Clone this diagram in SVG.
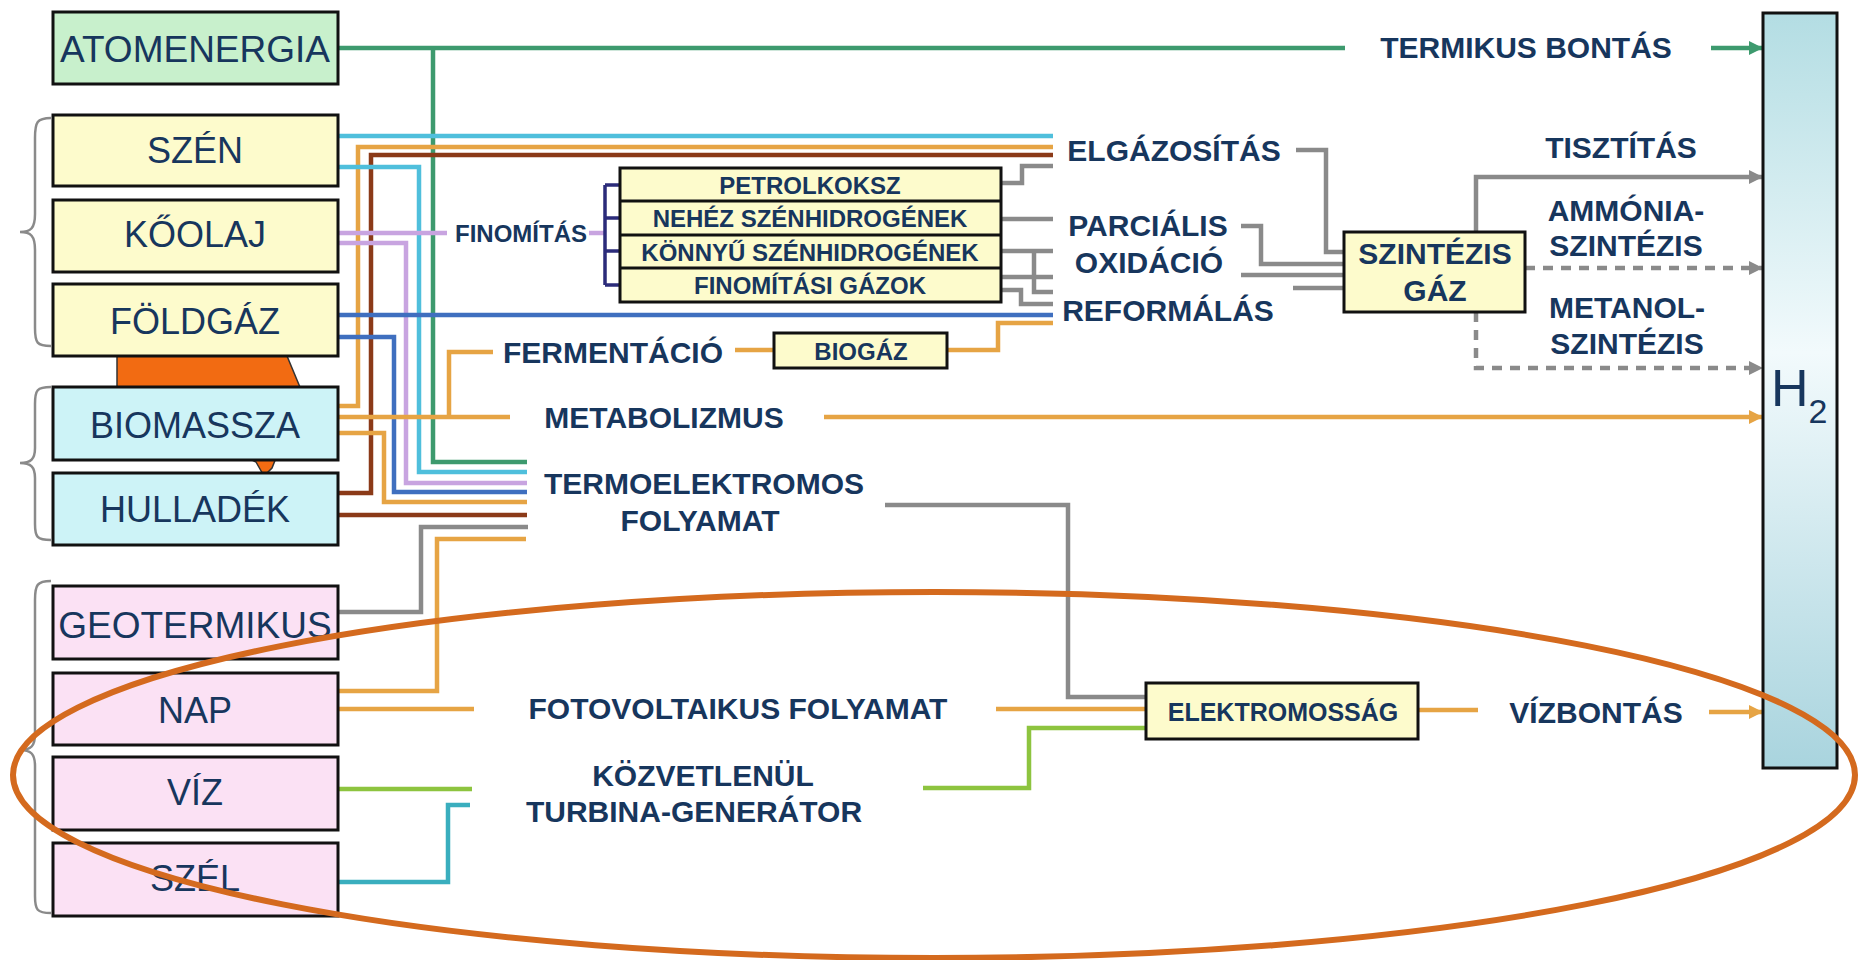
<svg xmlns="http://www.w3.org/2000/svg" width="1858" height="960" viewBox="0 0 1858 960">
<style>
.box{stroke:#111;stroke-width:3}
.yel{fill:#fdfbcc}
.cya{fill:#cdf3f7}
.pnk{fill:#fbe1f4}
.grn{fill:#c8f0cc}
.src{font-family:"Liberation Sans",Arial,sans-serif;font-size:36px;fill:#17365d;text-anchor:middle;dominant-baseline:central}
.lbl{font-family:"Liberation Sans",Arial,sans-serif;font-weight:bold;font-size:30px;fill:#17365d;text-anchor:middle;dominant-baseline:central}
.sm{font-size:24px}
.c{fill:none;stroke-width:4.5}
.brace{fill:none;stroke:#8a8a8a;stroke-width:2.5}
.cyan{stroke:#4fbfdc}
.org{stroke:#e6a444}
.brn{stroke:#8b3a18}
.gr{stroke:#3d9a6e}
.lil{stroke:#c8a4e0}
.blu{stroke:#3f6fbf}
.gry{stroke:#8a8a8a}
.ygr{stroke:#8dc43f}
.teal{stroke:#3aaebe}
.nav{stroke:#2b2b7a;stroke-width:3.5}
.dash{stroke-dasharray:10 8}
</style>
<defs>
<marker id="aG" viewBox="0 0 10 10" refX="10" refY="5" markerUnits="userSpaceOnUse" markerWidth="14" markerHeight="14" orient="auto"><path d="M0,0L10,5L0,10z" fill="#3d9a6e"/></marker>
<marker id="aY" viewBox="0 0 10 10" refX="10" refY="5" markerUnits="userSpaceOnUse" markerWidth="14" markerHeight="14" orient="auto"><path d="M0,0L10,5L0,10z" fill="#8a8a8a"/></marker>
<marker id="aO" viewBox="0 0 10 10" refX="10" refY="5" markerUnits="userSpaceOnUse" markerWidth="14" markerHeight="14" orient="auto"><path d="M0,0L10,5L0,10z" fill="#e6a444"/></marker>
<linearGradient id="h2g" x1="0" y1="0" x2="0" y2="1">
<stop offset="0" stop-color="#b3dde3"/>
<stop offset="0.45" stop-color="#f2fafc"/>
<stop offset="1" stop-color="#a9d4de"/>
</linearGradient>
</defs>
<rect width="1858" height="960" fill="#ffffff"/>

<g id="decor">
<polygon points="117,356 287,356 302,392 272,468 264,476 256,462 117,390" fill="#f26b12" stroke="#333" stroke-width="1.5"/>
<path class="brace" d="M51,118 C37,118 35,122 35,138 L35,214 C35,228 31,232 20,232 C31,232 35,236 35,250 L35,328 C35,343 37,346 51,346"/>
<path class="brace" d="M51,387 C37,387 35,390 35,404 L35,448 C35,459 31,463 20,463 C31,463 35,467 35,478 L35,524 C35,537 37,540 51,540"/>
<path class="brace" d="M51,581 C37,581 35,585 35,600 L35,734 C35,746 31,750 20,750 C31,750 35,754 35,766 L35,896 C35,910 37,913 51,913"/>
</g>

<g id="connectors">
<path class="c gr" d="M338,48H1345"/>
<path class="c gr" d="M1711,48H1763" marker-end="url(#aG)"/>
<path class="c gr" d="M433,48V462H527"/>
<path class="c cyan" d="M338,136H1053"/>
<path class="c org" d="M338,406H358V147H1053"/>
<path class="c brn" d="M338,493H371V155H1053"/>
<path class="c cyan" d="M338,167H419V472H527"/>
<path class="c lil" d="M338,233H447"/>
<path class="c lil" d="M589,233H605"/>
<path class="c lil" d="M338,243H406V483H527"/>
<path class="c blu" d="M338,315H1053"/>
<path class="c blu" d="M338,337H394V492H527"/>
<path class="c org" d="M338,417H510"/>
<path class="c org" d="M449,417V352H493"/>
<path class="c org" d="M338,433H384V502H527"/>
<path class="c brn" d="M338,515H527"/>
<path class="c gry" d="M338,612H421V527H528"/>
<path class="c org" d="M338,691H437V539H526"/>
<path class="c org" d="M338,709H474"/>
<path class="c ygr" d="M338,789H472"/>
<path class="c teal" d="M338,882H448V805H470"/>
<path class="c nav" d="M605,185V285M605,185H620M605,218H620M605,251H620M605,285H620"/>
<path class="c gry" d="M1001,183H1022V166H1053"/>
<path class="c gry" d="M1001,219H1053"/>
<path class="c gry" d="M1001,251H1053M1034,251V292H1053"/>
<path class="c gry" d="M1001,277H1053"/>
<path class="c gry" d="M1001,290H1021V304H1053"/>
<path class="c org" d="M735,350H774"/>
<path class="c org" d="M947,350H998V323H1053"/>
<path class="c gry" d="M1296,150H1326V252H1344"/>
<path class="c gry" d="M1241,226H1261V264H1344"/>
<path class="c gry" d="M1241,275H1344"/>
<path class="c gry" d="M1293,288H1344"/>
<path class="c gry" d="M1476,232V177H1763" marker-end="url(#aY)"/>
<path class="c gry dash" d="M1525,268H1763" marker-end="url(#aY)"/>
<path class="c gry dash" d="M1476,312V368H1763" marker-end="url(#aY)"/>
<path class="c org" d="M824,417H1763" marker-end="url(#aO)"/>
<path class="c gry" d="M885,505H1068V697H1146"/>
<path class="c org" d="M996,709H1146"/>
<path class="c ygr" d="M923,788H1029V728H1146"/>
<path class="c org" d="M1419,710H1478"/>
<path class="c org" d="M1709,712H1763" marker-end="url(#aO)"/>
</g>

<g id="n-atomenergia"><rect class="box grn" x="53" y="12" width="285" height="72"/><text class="src" x="195" y="49" style="font-size:37px">ATOMENERGIA</text></g>
<g id="n-szen"><rect class="box yel" x="53" y="115" width="285" height="71"/><text class="src" x="195" y="150">SZÉN</text></g>
<g id="n-koolaj"><rect class="box yel" x="53" y="200" width="285" height="72"/><text class="src" x="195" y="234">KŐOLAJ</text></g>
<g id="n-foldgaz"><rect class="box yel" x="53" y="284" width="285" height="72"/><text class="src" x="195" y="321">FÖLDGÁZ</text></g>
<g id="n-biomassza"><rect class="box cya" x="53" y="387" width="285" height="73"/><text class="src" x="195" y="425">BIOMASSZA</text></g>
<g id="n-hulladek"><rect class="box cya" x="53" y="473" width="285" height="72"/><text class="src" x="195" y="509">HULLADÉK</text></g>
<g id="n-geotermikus"><rect class="box pnk" x="53" y="586" width="285" height="73"/><text class="src" x="195" y="625" style="font-size:37px">GEOTERMIKUS</text></g>
<g id="n-nap"><rect class="box pnk" x="53" y="673" width="285" height="72"/><text class="src" x="195" y="710">NAP</text></g>
<g id="n-viz"><rect class="box pnk" x="53" y="757" width="285" height="73"/><text class="src" x="195" y="792">VÍZ</text></g>
<g id="n-szel"><rect class="box pnk" x="53" y="843" width="285" height="73"/><text class="src" x="195" y="878">SZÉL</text></g>

<g id="n-finomitas"><text class="lbl sm" x="521" y="233">FINOMÍTÁS</text></g>
<g id="n-finomitas-termekek">
<rect class="box yel" x="620" y="168" width="381" height="134"/>
<path d="M620,201H1001M620,235H1001M620,268H1001" stroke="#111" stroke-width="3"/>
<text class="lbl sm" x="810" y="185">PETROLKOKSZ</text>
<text class="lbl sm" x="810" y="218">NEHÉZ SZÉNHIDROGÉNEK</text>
<text class="lbl sm" x="810" y="252">KÖNNYŰ SZÉNHIDROGÉNEK</text>
<text class="lbl sm" x="810" y="285">FINOMÍTÁSI GÁZOK</text>
</g>
<g id="n-fermentacio"><text class="lbl" x="613" y="352">FERMENTÁCIÓ</text></g>
<g id="n-biogaz"><rect class="box yel" x="774" y="333" width="173" height="35"/><text class="lbl sm" x="861" y="351">BIOGÁZ</text></g>
<g id="n-termikus"><text class="lbl" x="1526" y="47">TERMIKUS BONTÁS</text></g>
<g id="n-elgazositas"><text class="lbl" x="1174" y="150">ELGÁZOSÍTÁS</text></g>
<g id="n-parcialis"><text class="lbl" x="1148" y="225">PARCIÁLIS</text><text class="lbl" x="1149" y="262">OXIDÁCIÓ</text></g>
<g id="n-reformalas"><text class="lbl" x="1168" y="310">REFORMÁLÁS</text></g>
<g id="n-szintezisgaz"><rect class="box yel" x="1344" y="232" width="181" height="80"/><text class="lbl" x="1435" y="253">SZINTÉZIS</text><text class="lbl" x="1435" y="290">GÁZ</text></g>
<g id="n-tisztitas"><text class="lbl" x="1621" y="147">TISZTÍTÁS</text></g>
<g id="n-ammonia"><text class="lbl" x="1626" y="210">AMMÓNIA-</text><text class="lbl" x="1626" y="245">SZINTÉZIS</text></g>
<g id="n-metanol"><text class="lbl" x="1627" y="307">METANOL-</text><text class="lbl" x="1627" y="343">SZINTÉZIS</text></g>
<g id="n-metabolizmus"><text class="lbl" x="664" y="417">METABOLIZMUS</text></g>
<g id="n-termoelektromos"><text class="lbl" x="704" y="483">TERMOELEKTROMOS</text><text class="lbl" x="700" y="520">FOLYAMAT</text></g>
<g id="n-fotovoltaikus"><text class="lbl" x="738" y="708">FOTOVOLTAIKUS FOLYAMAT</text></g>
<g id="n-turbina"><text class="lbl" x="703" y="775">KÖZVETLENÜL</text><text class="lbl" x="694" y="811">TURBINA-GENERÁTOR</text></g>
<g id="n-elektromossag"><rect class="box yel" x="1146" y="683" width="272" height="56"/><text class="lbl" x="1283" y="712" style="font-size:25px">ELEKTROMOSSÁG</text></g>
<g id="n-vizbontas"><text class="lbl" x="1596" y="712">VÍZBONTÁS</text></g>
<g id="n-h2"><rect x="1763" y="13" width="74" height="755" fill="url(#h2g)" stroke="#111" stroke-width="3"/><text x="1771" y="406" font-family="Liberation Sans,Arial,sans-serif" font-size="52" fill="#17365d">H<tspan font-size="34" dy="17">2</tspan></text></g>

<ellipse id="kiemeles" cx="934" cy="775" rx="921" ry="183" fill="none" stroke="#d46a1e" stroke-width="6"/>
</svg>
